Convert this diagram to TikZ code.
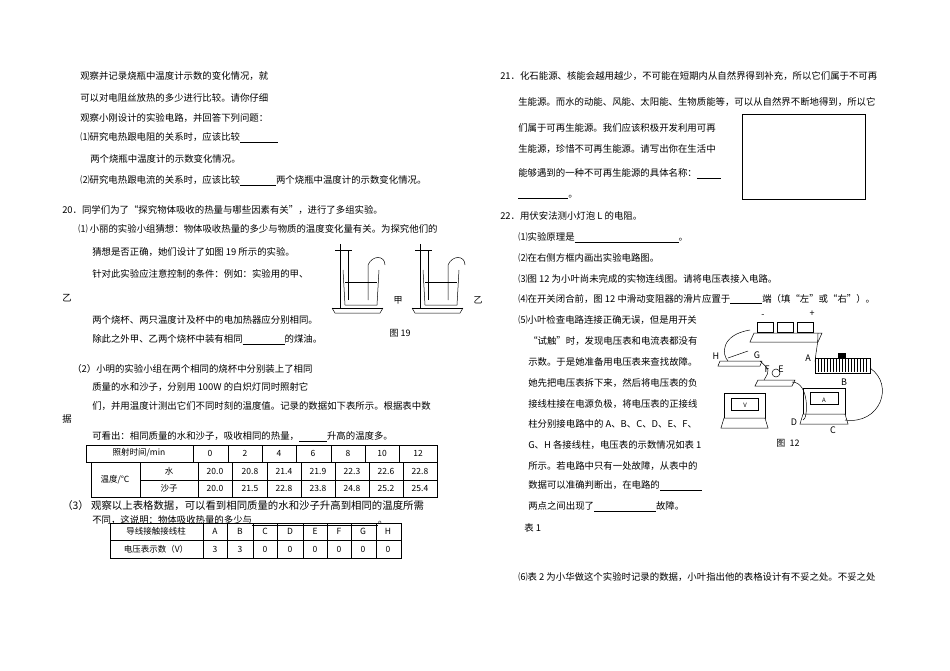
\documentclass[tikz,border=0pt]{standalone}
\usepackage{fontspec}
\setmainfont{Noto Sans CJK SC}
\usetikzlibrary{positioning}
\tikzstyle{line}=[anchor=west, inner sep=0pt, font=\fontsize{9.4}{10}\selectfont]
\tikzstyle{cell}=[inner sep=0pt, font=\fontsize{8.5}{9}\selectfont]
\tikzstyle{lbl}=[inner sep=0pt, font=\fontsize{9}{9}\selectfont]
\tikzstyle{part}=[draw, fill=white, line width=0.5pt]

\begin{document}
\begin{tikzpicture}[x=1pt, y=-1pt, line width=0.5pt]
  \useasboundingbox (0,0) rectangle (950,671);
  % left column
  \node[line] (l1) at (80,76) {观察并记录烧瓶中温度计示数的变化情况，就};
  \node[line] (l2) at (80,98) {可以对电阻丝放热的多少进行比较。请你仔细};
  \node[line] (l3) at (80,118) {观察小刚设计的实验电路，并回答下列问题：};
  \node[line] (l4) at (80,138) {⑴研究电热跟电阻的关系时，应该比较\underline{\hspace{38pt}}};
  \node[line] (l5) at (90,159) {两个烧瓶中温度计的示数变化情况。};
  \node[line] (l6) at (80,181) {⑵研究电热跟电流的关系时，应该比较\underline{\hspace{36pt}}两个烧瓶中温度计的示数变化情况。};
  \node[line] (q20) at (62,210) {20．同学们为了“探究物体吸收的热量与哪些因素有关”，进行了多组实验。};
  \node[line] (a1) at (78,229) {⑴ 小丽的实验小组猜想：物体吸收热量的多少与物质的温度变化量有关。为探究他们的};
  \node[line] (a2) at (92,252) {猜想是否正确，她们设计了如图 19 所示的实验。};
  \node[line] (a3) at (92,274) {针对此实验应注意控制的条件：例如：实验用的甲、};
  \node[line] (a4) at (62,298) {乙};
  \node[line] (a5) at (92,320) {两个烧杯、两只温度计及杯中的电加热器应分别相同。};
  \node[line] (a6) at (92,340) {除此之外甲、乙两个烧杯中装有相同\underline{\hspace{42pt}}的煤油。};
  \node[line] (b1) at (72,369) {（2）小明的实验小组在两个相同的烧杯中分别装上了相同};
  \node[line] (b2) at (92,387) {质量的水和沙子，分别用 100W 的白炽灯同时照射它};
  \node[line] (b3) at (92,406) {们，并用温度计测出它们不同时刻的温度值。记录的数据如下表所示。根据表中数};
  \node[line] (b4) at (62,419) {据};
  \node[line] (b5) at (92,437) {可看出：相同质量的水和沙子，吸收相同的热量，\underline{\hspace{28pt}}升高的温度多。};
  \node[line, font=\fontsize{10.4}{11}\selectfont] (c1) at (62,506) {（3）\ 观察以上表格数据，可以看到相同质量的水和沙子升高到相同的温度所需};
  \node[line] (c2) at (92,521) {不同，这说明：物体吸收热量的多少与\underline{\hspace{126pt}}。};
  % beakers (fig 19)
  \foreach \bx/\name in {340/甲, 420/乙} {
    \draw[line width=1pt] (\bx,244) -- (\bx,308);
    \draw (\bx-5,250) -- (\bx+12,250);
    \draw (\bx+8,250) -- (\bx+8,300);
    \draw[line width=1pt] (\bx-8,308) -- (\bx+43,308);
    \draw (\bx-8,308) -- (\bx-5,313) -- (\bx+40,313) -- (\bx+43,308);
    \draw (\bx+3,270) -- (\bx+5,305) -- (\bx+37,305) -- (\bx+39,270);
    \draw (\bx+5,282) -- (\bx+37,282);
    \draw (\bx+28,300) -- (\bx+28,265) .. controls (\bx+32,255) and (\bx+45,255) .. (\bx+45,265);
    \node[lbl] at (\bx+58,300) {\name};
  }
  \node[lbl] (f19) at (400,333) {图 19};
  % table of temperatures
  \draw (86,445) rectangle (437,462);
  \foreach \x in {193,228,262,296,331,365,399} \draw (\x,445) -- (\x,462);
  \draw (91,462) rectangle (437,497);
  \draw (140,480) -- (437,480);
  \draw (140,462) -- (140,497);
  \foreach \x in {198,232,267,301,335,369,403} \draw (\x,462) -- (\x,497);
  \node[cell] (t0) at (139,453) {照射时间/min};
  \foreach \x/\v in {210/0,245/2,279/4,313/6,348/8,382/10,418/12} \node[cell] at (\x,453) {\v};
  \node[cell] (td) at (115,480) {温度/℃};
  \node[cell] (tw) at (169,471) {水};
  \node[cell] (ts) at (169,488) {沙子};
  \foreach \x/\v in {215/20.0,250/20.8,284/21.4,318/21.9,352/22.3,386/22.6,420/22.8} \node[cell] at (\x,471) {\v};
  \foreach \x/\v in {215/20.0,250/21.5,284/22.8,318/23.8,352/24.8,386/25.2,420/25.4} \node[cell] at (\x,488) {\v};
  % table 1
  \draw (110,523) rectangle (401,558);
  \draw (110,540) -- (401,540);
  \foreach \x in {203,227,253,277,303,327,351,376} \draw (\x,523) -- (\x,558);
  \node[cell] (h1) at (156,531) {导线接触接线柱};
  \node[cell] (h2) at (156,549) {电压表示数（V）};
  \foreach \x/\p/\v in {215/A/3,240/B/3,265/C/0,290/D/0,315/E/0,339/F/0,363/G/0,388/H/0} {
    \node[cell] at (\x,531) {\p};
    \node[cell] at (\x,549) {\v};
  }
  % right column
  \node[line] (r1) at (500,76) {21．化石能源、核能会越用越少，不可能在短期内从自然界得到补充，所以它们属于不可再};
  \node[line] (r2) at (518,102) {生能源。而水的动能、风能、太阳能、生物质能等，可以从自然界不断地得到，所以它};
  \node[line] (r3) at (518,128) {们属于可再生能源。我们应该积极开发利用可再};
  \node[line] (r4) at (518,149) {生能源，珍惜不可再生能源。请写出你在生活中};
  \node[line] (r5) at (518,174) {能够遇到的一种不可再生能源的具体名称：\underline{\hspace{24pt}}};
  \node[line] (r6) at (518,197) {\underline{\hspace{50pt}}。};
  \draw[line width=0.8pt] (742,114) rectangle (865,199);
  \node[line] (q22) at (500,216) {22．用伏安法测小灯泡 L 的电阻。};
  \node[line] (s1) at (518,238) {⑴实验原理是\underline{\hspace{104pt}}。};
  \node[line] (s2) at (518,258) {⑵在右侧方框内画出实验电路图。};
  \node[line] (s3) at (518,279) {⑶图 12 为小叶尚未完成的实物连线图。请将电压表接入电路。};
  \node[line] (s4) at (518,299) {⑷在开关闭合前，图 12 中滑动变阻器的滑片应置于\underline{\hspace{32pt}}端（填“左”或“右”）。};
  \node[line] (s5) at (518,320) {⑸小叶检查电路连接正确无误，但是用开关};
  \node[line] (s6) at (528,341) {“试触”时，发现电压表和电流表都没有};
  \node[line] (s7) at (528,362) {示数。于是她准备用电压表来查找故障。};
  \node[line] (s8) at (528,383) {她先把电压表拆下来，然后将电压表的负};
  \node[line] (s9) at (528,404) {接线柱接在电源负极，将电压表的正接线};
  \node[line] (s10) at (528,424) {柱分别接电路中的 A、B、C、D、E、F、};
  \node[line] (s11) at (528,445) {G、H 各接线柱，电压表的示数情况如表 1};
  \node[line] (s12) at (528,466) {所示。若电路中只有一处故障，从表中的};
  \node[line] (s13) at (528,486) {数据可以准确判断出，在电路的\underline{\hspace{42pt}}};
  \node[line] (s14) at (528,507) {两点之间出现了\underline{\hspace{62pt}}故障。};
  \node[line] (tab1) at (524,528) {表 1};
  \node[line] (s15) at (518,577) {⑹表 2 为小华做这个实验时记录的数据，小叶指出他的表格设计有不妥之处。不妥之处};
  % circuit (fig 12)
  \draw[part] (754,333) -- (822,333) -- (818,342) -- (750,342) -- cycle;
  \foreach \x in {765,785,805} \draw[part] (\x-8,322) rectangle (\x+8,332);
  \node[lbl] (bm) at (763,316) {-};
  \node[lbl] (bp) at (812,314) {+};
  \draw[part] (720,361) -- (762,361) -- (760,366) -- (718,366) -- cycle;
  \draw (728,358) -- (748,351);
  \node[lbl] (H) at (716,356) {H};
  \node[lbl] (G) at (757,355) {G};
  \draw[part] (758,380) -- (795,380) -- (792,386) -- (755,386) -- cycle;
  \draw[part] (776,373) circle (4);
  \node[lbl] (F) at (767,369) {F};
  \node[lbl] (E) at (781,369) {E};
  \draw[part] (815,358) rectangle (870,373);
  \foreach \x in {818,821,...,866} \draw (\x,359) -- (\x,372);
  \draw[fill=black] (838,353) rectangle (845,357);
  \node[lbl] (A) at (808,358) {A};
  \node[lbl] (B) at (844,382) {B};
  \draw[part] (724,393) rectangle (765,418);
  \draw[part] (724,418) -- (765,418) -- (768,428) -- (721,428) -- cycle;
  \draw (731,398) rectangle (758,410);
  \node[lbl, font=\fontsize{6}{6}\selectfont] (V) at (745,405) {V};
  \draw[part] (803,388) rectangle (845,414);
  \draw[part] (803,414) -- (845,414) -- (848,424) -- (800,424) -- cycle;
  \draw (810,392) rectangle (838,404);
  \node[lbl, font=\fontsize{6}{6}\selectfont] (Am) at (824,400) {A};
  \node[lbl] (D) at (794,422) {D};
  \node[lbl] (C) at (833,430) {C};
  \draw (750,330) .. controls (720,335) and (722,355) .. (728,361);
  \draw (818,333) .. controls (818,345) and (816,350) .. (815,362);
  \draw (760,361) .. controls (770,370) .. (764,380);
  \draw (792,382) .. controls (810,382) and (808,420) .. (803,420);
  \draw (870,368) .. controls (895,385) and (880,425) .. (845,420);
  \node[lbl] (f12) at (788,443) {图 \ 12};
\end{tikzpicture}
\end{document}
